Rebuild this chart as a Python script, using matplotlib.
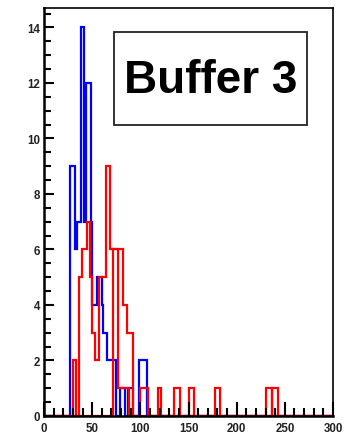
import numpy as np
import matplotlib.pyplot as plt
from matplotlib.patches import Rectangle
from matplotlib.ticker import MultipleLocator

# ====== Data ======
# blue channel: variable-width bins (edges in x units) and counts
blue_edges = [0, 26.5, 32.5, 34.5, 38, 42, 44, 48.3, 49.5, 54.7, 60, 61.5, 65, 75,
              79, 84, 87.5, 92.7, 99, 106.6, 300]
blue_counts = [0, 9, 6, 7, 14, 7, 12, 7, 4, 5, 4, 3, 2, 0, 1, 0, 1, 0, 2, 0]

# red channel A (sharp peak + sparse tail)
red_a_edges = [0, 30.5, 33.5, 36.7, 39, 45, 47.8, 49.5, 53, 57.5, 64.5, 68, 77, 88,
               118.5, 121, 135, 141, 177, 183, 230, 236.5, 300]
red_a_counts = [0, 2, 0, 5, 6, 7, 5, 3, 2, 5, 9, 6, 1, 0, 1, 0, 1, 0, 1, 0, 1, 0]

# red channel B (broad hump + sparse tail)
red_b_edges = [0, 72, 82, 86, 92, 100, 108, 150, 155.5, 236.5, 243, 300]
red_b_counts = [0, 6, 4, 3, 0, 1, 0, 1, 0, 1, 0]

title_text = 'Buffer 3'

# ====== Plot ======
fig = plt.figure(figsize=(3.44, 4.39), dpi=100)
ax = fig.add_axes([44 / 344, 1 - 417 / 439, (333 - 44) / 344, (417 - 9) / 439])

ax.stairs(blue_counts, blue_edges, color='blue', linewidth=1.6)
ax.stairs(red_b_counts, red_b_edges, color='red', linewidth=1.6)
ax.stairs(red_a_counts, red_a_edges, color='red', linewidth=1.6)

ax.set_xlim(0, 300)
ax.set_ylim(0, 14.7)

ax.xaxis.set_major_locator(MultipleLocator(50))
ax.xaxis.set_minor_locator(MultipleLocator(10))
ax.yaxis.set_major_locator(MultipleLocator(2))
ax.yaxis.set_minor_locator(MultipleLocator(0.5))
ax.tick_params(axis='x', which='major', direction='in', length=10, width=1.5, pad=4)
ax.tick_params(axis='x', which='minor', direction='in', length=5.5, width=1.5)
ax.tick_params(axis='y', which='major', direction='in', length=7.5, width=1.5, pad=3)
ax.tick_params(axis='y', which='minor', direction='in', length=5, width=1.5)
for lab in ax.get_xticklabels() + ax.get_yticklabels():
    lab.set_fontfamily('Liberation Sans')
    lab.set_fontweight('bold')
    lab.set_fontsize(8.3)
    lab.set_color('#222222')

ax.spines['left'].set_linewidth(1.8)
ax.spines['bottom'].set_linewidth(1.8)
ax.spines['top'].set_linewidth(1.2)
ax.spines['right'].set_linewidth(1.2)

# label box
ax.add_patch(Rectangle((0.242, 0.713), 0.668, 0.228, transform=ax.transAxes,
                       facecolor='white', edgecolor='#222222', linewidth=1.3, zorder=5))
ax.text(0.576, 0.824, title_text, transform=ax.transAxes, ha='center', va='center',
        fontsize=33, fontweight='bold', family='Liberation Sans', zorder=6)

plt.savefig('out.png', dpi=100)
